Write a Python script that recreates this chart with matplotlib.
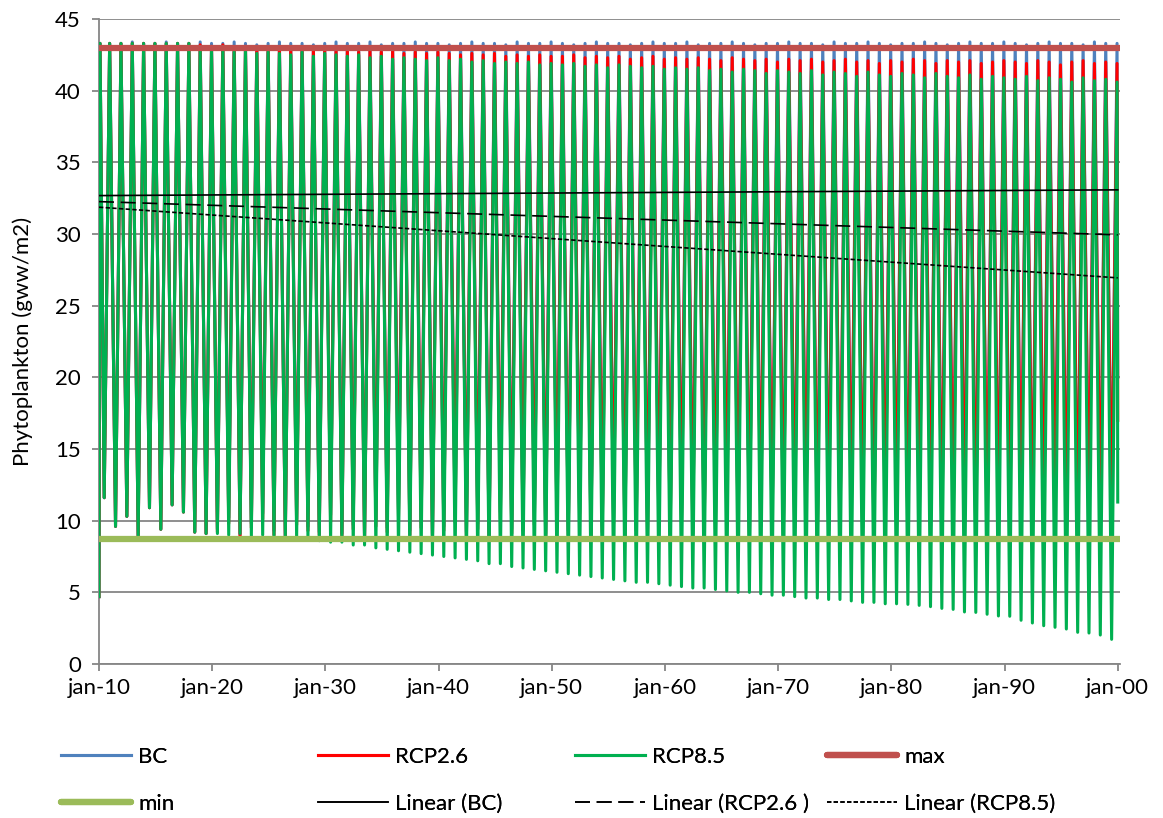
import numpy as np
import matplotlib.pyplot as plt
from matplotlib.lines import Line2D

plt.rcParams['font.family'] = ['Lato', 'DejaVu Sans']

years = np.arange(2010, 2100)

# yearly minimum / maximum of phytoplankton (gww/m2), one value per year 2010-2099
bc_low = [11.6, 9.6, 10.3, 8.9, 10.9, 9.4, 11.1, 10.6, 9.2, 9.1,
          9.4, 10.2, 9.0, 9.8, 10.5, 9.3, 8.9, 10.1, 9.6, 9.2,
          10.4, 9.1, 9.7, 8.7, 10.0, 9.5, 10.8, 9.3, 9.9, 9.0,
          9.6, 10.3, 9.2, 9.8, 8.9, 10.6, 9.4, 9.7, 10.1, 9.1,
          9.9, 9.3, 10.5, 9.0, 9.6, 10.2, 8.8, 9.7, 9.4, 10.0,
          9.2, 10.4, 9.5, 9.1, 9.8, 10.7, 9.3, 9.0, 10.1, 9.6,
          9.4, 9.9, 10.3, 8.9, 9.7, 9.2, 10.5, 9.5, 9.0, 9.8,
          10.2, 9.3, 9.6, 10.0, 9.1, 9.8, 10.4, 9.2, 9.5, 9.9,
          9.3, 10.1, 9.0, 9.7, 10.3, 9.4, 8.9, 9.8, 9.6, 10.0]
bc_high = [43.3, 43.3, 43.4, 43.3, 43.3, 43.4, 43.3, 43.3, 43.4, 43.3,
           43.3, 43.4, 43.3, 43.2, 43.3, 43.4, 43.3, 43.3, 43.2, 43.3,
           43.4, 43.3, 43.3, 43.4, 43.2, 43.3, 43.3, 43.4, 43.3, 43.3,
           43.2, 43.3, 43.4, 43.3, 43.3, 43.2, 43.4, 43.3, 43.3, 43.4,
           43.3, 43.2, 43.3, 43.4, 43.3, 43.3, 43.2, 43.3, 43.4, 43.3,
           43.3, 43.4, 43.2, 43.3, 43.3, 43.4, 43.3, 43.2, 43.3, 43.3,
           43.4, 43.3, 43.3, 43.2, 43.4, 43.3, 43.3, 43.4, 43.3, 43.2,
           43.3, 43.3, 43.4, 43.3, 43.2, 43.3, 43.4, 43.3, 43.3, 43.4,
           43.3, 43.2, 43.3, 43.4, 43.3, 43.3, 43.2, 43.4, 43.3, 43.3]

rcp26_low = [11.6, 9.6, 10.3, 8.9, 10.9, 9.4, 11.1, 10.6, 9.2, 9.1,
             9.2, 9.8, 8.9, 9.5, 10.1, 9.0, 8.8, 9.7, 9.3, 9.0,
             9.9, 8.9, 9.4, 8.7, 9.6, 9.2, 10.3, 9.0, 9.5, 8.8,
             9.3, 9.9, 8.9, 9.4, 8.7, 10.1, 9.1, 9.3, 9.7, 8.8,
             9.5, 9.0, 10.0, 8.8, 9.2, 9.8, 8.7, 9.3, 9.0, 9.6,
             8.9, 9.9, 9.1, 8.8, 9.4, 10.2, 9.0, 8.7, 9.6, 9.2,
             9.0, 9.5, 9.8, 8.7, 9.3, 8.9, 10.0, 9.1, 8.8, 9.4,
             9.7, 8.9, 9.2, 9.6, 8.8, 9.4, 9.9, 8.9, 9.1, 9.5,
             8.9, 9.6, 8.7, 9.3, 9.8, 9.0, 8.7, 9.4, 9.2, 9.5]
rcp26_high = [43.3, 43.3, 43.3, 43.3, 43.3, 43.3, 43.3, 43.3, 43.2, 43.1,
              43.2, 43.0, 43.1, 43.0, 42.9, 43.0, 42.9, 42.8, 42.9, 42.8,
              42.9, 42.8, 42.7, 42.8, 42.7, 42.8, 42.6, 42.7, 42.6, 42.7,
              42.6, 42.5, 42.6, 42.5, 42.6, 42.4, 42.5, 42.4, 42.5, 42.4,
              42.4, 42.5, 42.3, 42.4, 42.3, 42.4, 42.2, 42.3, 42.4, 42.2,
              42.3, 42.2, 42.3, 42.2, 42.1, 42.3, 42.2, 42.1, 42.2, 42.0,
              42.2, 42.1, 42.2, 42.0, 42.1, 42.2, 42.0, 42.1, 41.9, 42.1,
              42.0, 42.2, 42.1, 41.9, 42.1, 42.0, 42.1, 41.9, 42.0, 42.1,
              42.0, 41.9, 42.1, 42.0, 41.8, 42.0, 42.1, 41.9, 42.0, 41.9]

rcp85_low = [11.6, 9.6, 10.3, 8.9, 10.9, 9.4, 11.1, 10.6, 9.2, 9.1,
             9.1, 9.0, 9.1, 8.9, 9.0, 8.8, 8.9, 8.8, 8.8, 8.6,
             8.5, 8.5, 8.3, 8.3, 8.1, 8.0, 7.9, 7.8, 7.7, 7.6,
             7.5, 7.4, 7.3, 7.2, 7.0, 7.0, 6.8, 6.7, 6.6, 6.5,
             6.4, 6.3, 6.2, 6.1, 6.0, 5.9, 5.8, 5.7, 5.7, 5.6,
             5.5, 5.4, 5.3, 5.3, 5.2, 5.1, 5.0, 5.0, 4.9, 4.8,
             4.8, 4.7, 4.6, 4.6, 4.5, 4.5, 4.4, 4.3, 4.3, 4.2,
             4.2, 4.16, 4.09, 4.0, 3.88, 3.81, 3.63, 3.6, 3.47, 3.35,
             3.33, 3.05, 2.86, 2.67, 2.56, 2.44, 2.21, 2.16, 2.02, 1.72]
rcp85_high = [43.3, 43.3, 43.3, 43.3, 43.3, 43.3, 43.3, 43.3, 42.9, 42.8,
              42.9, 42.7, 42.8, 42.6, 42.7, 42.6, 42.5, 42.7, 42.4, 42.6,
              42.5, 42.4, 42.5, 42.3, 42.4, 42.2, 42.3, 42.2, 42.1, 42.3,
              42.1, 42.2, 42.0, 42.1, 41.9, 42.0, 41.9, 42.0, 41.8, 41.9,
              41.8, 41.9, 41.7, 41.8, 41.6, 41.8, 41.7, 41.6, 41.7, 41.5,
              41.6, 41.5, 41.6, 41.4, 41.5, 41.3, 41.5, 41.4, 41.2, 41.4,
              41.3, 41.2, 41.4, 41.1, 41.3, 41.2, 41.0, 41.3, 41.1, 41.0,
              41.2, 41.1, 40.9, 41.2, 41.0, 40.9, 41.1, 40.8, 41.0, 40.9,
              40.8, 41.0, 40.7, 40.9, 40.8, 40.6, 40.9, 40.7, 40.8, 40.6]

# value at jan-2010, first bloom of 2010, value at jan-2100
bc_edges = [4.7, 43.3, 20.0]
rcp26_edges = [4.7, 43.3, 17.0]
rcp85_edges = [4.7, 43.3, 11.3]

max_level = 43.0
min_level = 8.7

# linear trendlines: value at jan-2010 and jan-2100
trend_years = [2010, 2100]
trend_bc = [32.68, 33.08]
trend_rcp26 = [32.26, 29.94]
trend_rcp85 = [31.87, 26.94]

tick_years = np.arange(2010, 2101, 10)
tick_labels = ['jan-10', 'jan-20', 'jan-30', 'jan-40', 'jan-50',
               'jan-60', 'jan-70', 'jan-80', 'jan-90', 'jan-00']


def series(low, high, edges):
    # minimum in early summer, maximum just before the turn of the year
    t = np.empty(2 * len(years))
    v = np.empty(2 * len(years))
    t[0::2] = years + 0.46
    t[1::2] = years + 0.94
    v[0::2] = low
    v[1::2] = high
    t = np.concatenate([[2010.0, 2010.09], t, [2100.0]])
    v = np.concatenate([edges[:2], v, edges[2:]])
    return t, v


c_bc = '#4F81BD'
c_26 = '#FF0000'
c_85 = '#00B050'
c_max = '#C0504D'
c_min = '#9BBB59'
grey = '#868686'
fs = 16

fig = plt.figure(figsize=(11.63, 8.18), dpi=100)
ax = fig.add_axes([99 / 1163, 1 - 664 / 818, 1021 / 1163, 645 / 818])

lw = 2.2
ax.plot(*series(bc_low, bc_high, bc_edges), color=c_bc, lw=lw, zorder=3)
ax.plot(*series(rcp26_low, rcp26_high, rcp26_edges), color=c_26, lw=lw, zorder=4)
ax.plot(*series(rcp85_low, rcp85_high, rcp85_edges), color=c_85, lw=lw, zorder=5)

ax.plot(trend_years, [max_level] * 2, color=c_max, lw=4.5, zorder=6)
ax.plot(trend_years, [min_level] * 2, color=c_min, lw=4.5, zorder=6)

ax.plot(trend_years, trend_bc, color='black', lw=1.2, zorder=7)
ax.plot(trend_years, trend_rcp26, color='black', lw=1.2, ls=(0, (9, 4)), zorder=7)
ax.plot(trend_years, trend_rcp85, color='black', lw=1.2, ls=(0, (2.6, 1.4)), zorder=7)

ax.set_xlim(2010, 2100.2)
ax.set_ylim(0, 45)
ax.set_xticks(tick_years)
ax.set_xticklabels(tick_labels)
ax.set_yticks(np.arange(0, 46, 5))
ax.tick_params(axis='both', labelsize=fs, color=grey, length=5, width=1.3)
ax.tick_params(axis='x', pad=5)
ax.tick_params(axis='y', pad=8)
ax.yaxis.grid(True, color=grey, lw=1.3, zorder=0)
ax.set_axisbelow(True)
for s in ['top', 'right']:
    ax.spines[s].set_visible(False)
for s in ['left', 'bottom']:
    ax.spines[s].set_color(grey)
    ax.spines[s].set_linewidth(1.3)

ax.set_ylabel('Phytoplankton (gww/m2)', fontsize=fs)
ax.yaxis.set_label_coords(-0.065, 0.5)

# legend: four columns of two entries each under the plot
cols = [
    [(Line2D([], [], color=c_bc, lw=2.2), 'BC'),
     (Line2D([], [], color=c_min, lw=4.5, solid_capstyle='round'), 'min')],
    [(Line2D([], [], color=c_26, lw=2.2), 'RCP2.6'),
     (Line2D([], [], color='black', lw=1.2), 'Linear (BC)')],
    [(Line2D([], [], color=c_85, lw=2.2), 'RCP8.5'),
     (Line2D([], [], color='black', lw=1.2, ls=(0, (9, 4))), 'Linear (RCP2.6 )')],
    [(Line2D([], [], color=c_max, lw=4.5, solid_capstyle='round'), 'max'),
     (Line2D([], [], color='black', lw=1.2, ls=(0, (2.6, 1.4))), 'Linear (RCP8.5)')],
]
col_x = [61, 318, 575, 827]
for x, entries in zip(col_x, cols):
    handles, labels = zip(*entries)
    leg = fig.legend(handles, labels, loc='upper left',
                     bbox_to_anchor=(x / 1163, 1 - 747 / 818),
                     frameon=False, fontsize=fs, handlelength=3.15,
                     handletextpad=0.32, labelspacing=1.2, borderpad=0,
                     borderaxespad=0)
    fig.add_artist(leg)

fig.savefig('out.png', dpi=100)
